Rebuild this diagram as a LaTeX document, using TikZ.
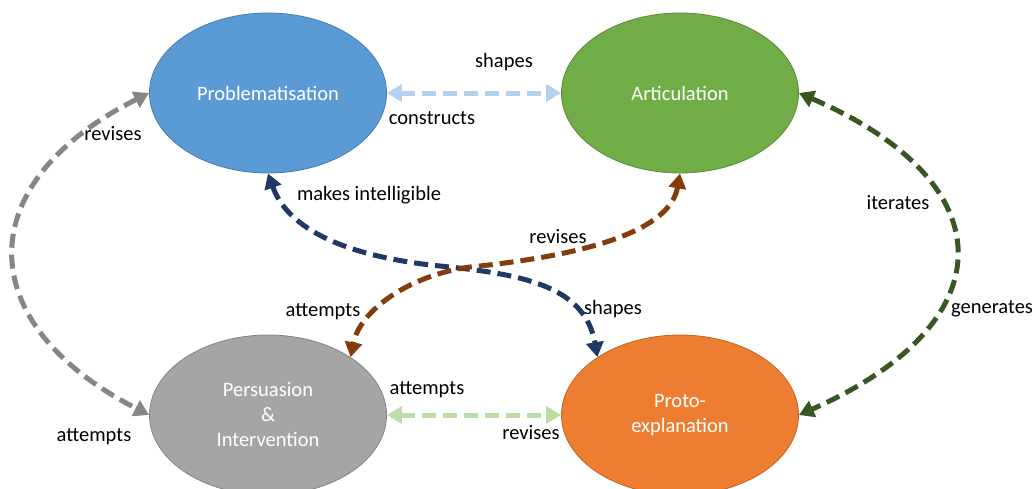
\documentclass[tikz,border=0pt]{standalone}
\usepackage{fontspec}
\setmainfont{Carlito}
\usetikzlibrary{shapes.geometric,arrows.meta}
\definecolor{cblue}{HTML}{5B9BD5}
\definecolor{cgreen}{HTML}{70AD47}
\definecolor{cgray}{HTML}{A5A5A5}
\definecolor{corange}{HTML}{ED7D31}
\definecolor{alblue}{HTML}{B4D2EE}
\definecolor{algreen}{HTML}{BCDDA8}
\definecolor{algray}{HTML}{868686}
\definecolor{adgreen}{HTML}{385723}
\definecolor{adblue}{HTML}{203864}
\definecolor{abrown}{HTML}{843C0C}
\begin{document}
\begin{tikzpicture}[x=1pt,y=-1pt,
  bubble/.style={ellipse, minimum width=237pt, minimum height=160pt, inner sep=0pt,
    text=white, align=center, font=\fontsize{20.5}{25}\selectfont, line width=0.8pt},
  lbl/.style={font=\fontsize{20.5}{25}\selectfont, text=black, inner sep=0pt},
  conn/.style={line width=5pt, dash pattern=on 14pt off 7pt,
    arrows={Triangle[length=15pt,width=17pt]-Triangle[length=15pt,width=17pt]}}]
\useasboundingbox (0,0) rectangle (1035,488);
\node[bubble, fill=cblue, draw=cblue!80!black] (pr) at (268,93) {Problematisation};
\node[bubble, fill=cgreen, draw=cgreen!80!black] (ar) at (680,93) {Articulation};
\node[bubble, fill=cgray, draw=cgray!80!black] (pi) at (268,415) {Persuasion\\\&\\Intervention};
\node[bubble, fill=corange, draw=corange!80!black] (pe) at (680,415) {Proto-\\explanation};

\draw[conn, alblue] (pr.east) -- (ar.west);
\draw[conn, algreen] (pi.east) -- (pe.west);
\draw[conn, algray] (pr.west) .. controls (-30,183) and (-30,323) .. (pi.west);
\draw[conn, adgreen] (ar.east) .. controls (1007,183) and (1007,323) .. (pe.east);
\draw[conn, adblue] (pr.-90) .. controls (290,235) and (360,258) .. (440,266)
  .. controls (520,274) and (585,285) .. (pe.145);
\draw[conn, abrown] (ar.-90) .. controls (670,230) and (590,255) .. (470,267)
  .. controls (410,275) and (360,310) .. (pi.35);

\node[lbl] (l1) at (504,62) {shapes};
\node[lbl] (l2) at (432,118) {constructs};
\node[lbl] (l3) at (113,134) {revises};
\node[lbl] (l4) at (369,195) {makes intelligible};
\node[lbl] (l5) at (898,203) {iterates};
\node[lbl] (l6) at (558,237) {revises};
\node[lbl] (l7) at (323,312) {attempts};
\node[lbl] (l8) at (613,309) {shapes};
\node[lbl] (l9) at (992,309) {generates};
\node[lbl] (l10) at (427,390) {attempts};
\node[lbl] (l11) at (531,433) {revises};
\node[lbl] (l12) at (94,437) {attempts};
\end{tikzpicture}
\end{document}
